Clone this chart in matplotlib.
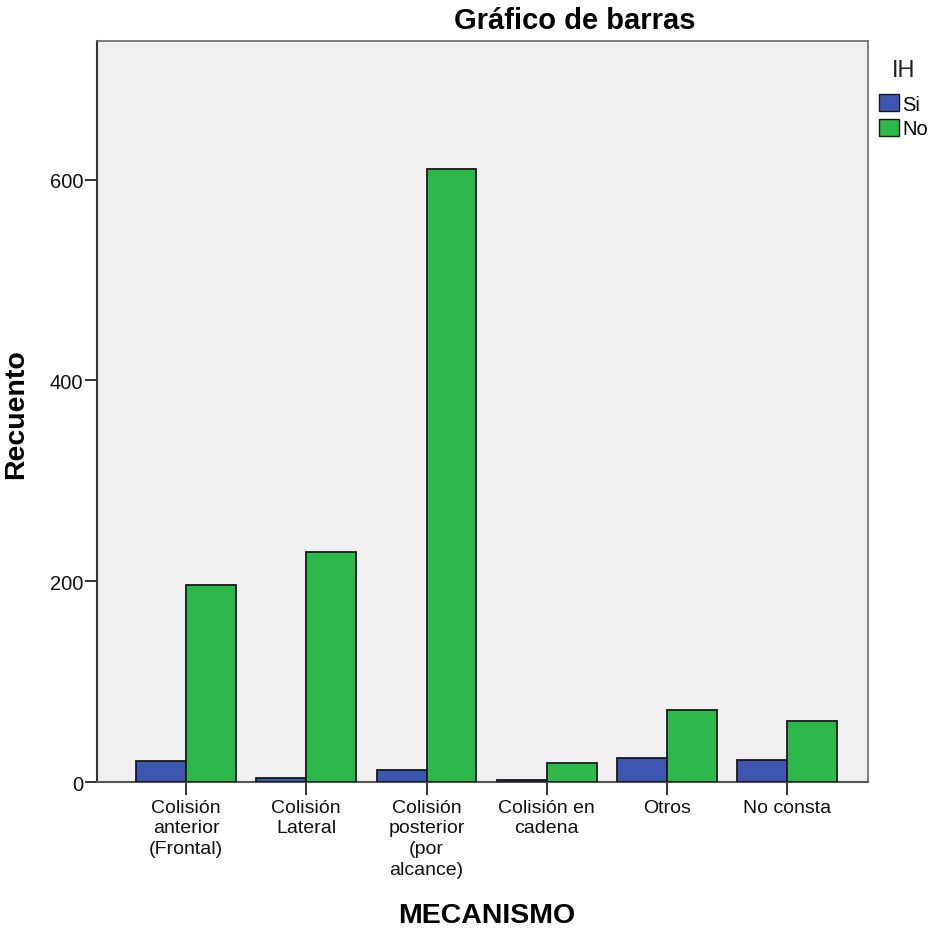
import numpy as np
from matplotlib import pyplot as plt
from matplotlib.patches import Patch

categories = ['Colisión\nanterior\n(Frontal)', 'Colisión\nLateral', 'Colisión\nposterior\n(por\nalcance)',
              'Colisión en\ncadena', 'Otros', 'No consta']
si_values = [21, 4, 12, 2, 24, 22]
no_values = [196, 229, 611, 19, 72, 61]
yticks = [0, 200, 400, 600]

plt.rcParams['font.family'] = ['Liberation Sans', 'DejaVu Sans']

fig = plt.figure(figsize=(9.29, 9.29), dpi=100)
ax = fig.add_axes([0.1044, 0.157, 0.8299, 0.7978])
ax.set_facecolor('#f0f0f0')

x = np.arange(len(categories))
w = 0.415
ax.bar(x - w / 2, si_values, w, color='#3d57b0', edgecolor='#1a1a1a', linewidth=1.3, zorder=3)
ax.bar(x + w / 2, no_values, w, color='#2db84b', edgecolor='#1a1a1a', linewidth=1.3, zorder=3)

ax.set_xlim(-0.74, 5.67)
ax.set_ylim(0, 738)
ax.set_xticks(x)
ax.set_xticklabels(categories, fontsize=14, linespacing=1.28, va='top')
ax.set_yticks(yticks)
ax.tick_params(axis='both', direction='out', length=9, width=1.4, colors='#333333', labelcolor='#111111')
ax.tick_params(axis='x', pad=3, labelsize=14)
ax.tick_params(axis='y', pad=1, labelsize=14.5)

for s in ax.spines.values():
    s.set_color('#666666')
    s.set_linewidth(1.2)
ax.spines['left'].set_color('#333333')
ax.spines['left'].set_linewidth(1.5)
ax.spines['bottom'].set_color('#555555')
ax.spines['bottom'].set_linewidth(1.5)

H = 929.0
fig.text(575 / H, 1 - 29 / H, 'Gráfico de barras', fontsize=21, fontweight='bold',
         ha='center', va='baseline')
fig.text(487 / H, 1 - 923 / H, 'MECANISMO', fontsize=20.5, fontweight='bold',
         ha='center', va='baseline')
fig.text(16 / H, 1 - 414 / H, 'Recuento', fontsize=20.5, fontweight='bold',
         ha='center', va='center', rotation=90)

fig.text(904 / H, 1 - 77 / H, 'IH', fontsize=17, ha='center', va='baseline', color='#222222')
handles = [Patch(facecolor='#3d57b0', edgecolor='#1a1a1a', label='Si'),
           Patch(facecolor='#2db84b', edgecolor='#1a1a1a', label='No')]
fig.legend(handles=handles, loc='upper left', bbox_to_anchor=(879 / H, 1 - 95 / H),
           frameon=False, fontsize=14.5, handlelength=1.0, handleheight=0.95,
           handletextpad=0.15, borderpad=0, borderaxespad=0, labelspacing=0.25)

fig.savefig('out.png')
